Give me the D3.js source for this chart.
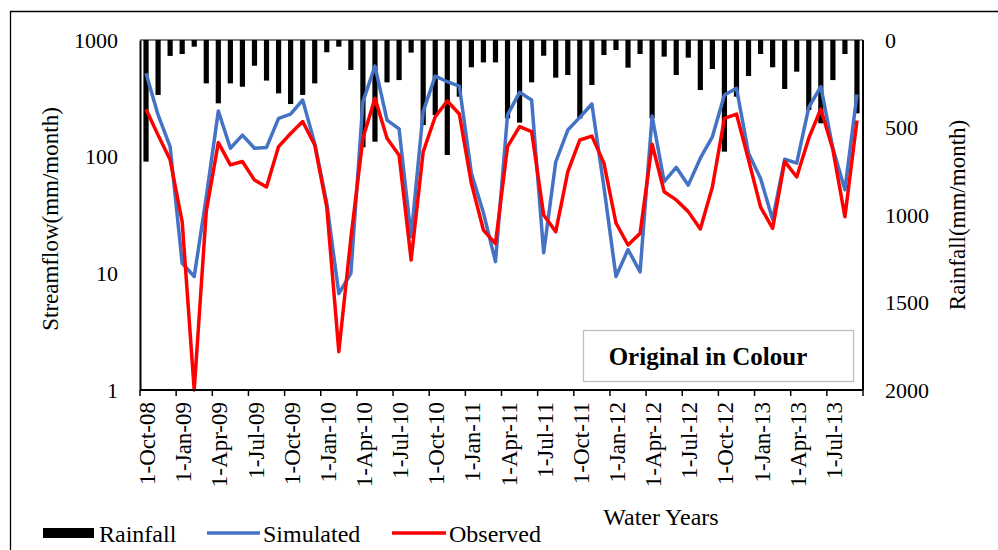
<!DOCTYPE html>
<html>
<head>
<meta charset="utf-8">
<script src="https://cdn.jsdelivr.net/npm/d3@7"></script>
<style>
  body { margin: 0; background: #fff; }
  svg text { font-family: "Liberation Serif", "Times New Roman", serif; fill: #000; }
</style>
</head>
<body>
<div id="chart"></div>
<script>

// months Oct-2008 .. Sep-2013
var months = [
  "Oct-08","Nov-08","Dec-08","Jan-09","Feb-09","Mar-09","Apr-09","May-09","Jun-09","Jul-09","Aug-09","Sep-09",
  "Oct-09","Nov-09","Dec-09","Jan-10","Feb-10","Mar-10","Apr-10","May-10","Jun-10","Jul-10","Aug-10","Sep-10",
  "Oct-10","Nov-10","Dec-10","Jan-11","Feb-11","Mar-11","Apr-11","May-11","Jun-11","Jul-11","Aug-11","Sep-11",
  "Oct-11","Nov-11","Dec-11","Jan-12","Feb-12","Mar-12","Apr-12","May-12","Jun-12","Jul-12","Aug-12","Sep-12",
  "Oct-12","Nov-12","Dec-12","Jan-13","Feb-13","Mar-13","Apr-13","May-13","Jun-13","Jul-13","Aug-13","Sep-13"
];

var tickLabels = [
  "1-Oct-08","1-Jan-09","1-Apr-09","1-Jul-09","1-Oct-09","1-Jan-10","1-Apr-10","1-Jul-10",
  "1-Oct-10","1-Jan-11","1-Apr-11","1-Jul-11","1-Oct-11","1-Jan-12","1-Apr-12","1-Jul-12",
  "1-Oct-12","1-Jan-13","1-Apr-13","1-Jul-13"
];

var rainfall = [
  695, 314, 91, 80, 38, 248, 362, 248, 267, 147, 232, 305,
  366, 314, 248, 70, 38, 171, 613, 581, 242, 229, 72, 486,
  429, 657, 324, 156, 128, 128, 448, 472, 242, 90, 215, 200,
  448, 257, 86, 57, 158, 80, 448, 95, 200, 101, 286, 166,
  638, 324, 206, 80, 156, 280, 181, 400, 476, 229, 80, 419
];

var simulated = [
  518, 228, 122, 12.2, 9.4, 45, 246, 118, 153, 118, 120, 213,
  232, 306, 130, 40, 6.7, 10, 296, 598, 206, 173, 20.6, 243,
  491, 439, 403, 72, 33, 12.6, 228, 356, 306, 15, 90, 169,
  217, 283, 55, 9.4, 16, 10.3, 223, 61, 81, 57, 97, 148,
  338, 386, 107, 65, 29, 95, 88, 265, 398, 118, 52, 342
];

var observed = [
  255, 153, 94, 27.7, 1.0, 34, 132, 85, 91, 63, 55, 122,
  158, 200, 126, 37, 2.13, 20, 144, 317, 144, 103, 13, 110,
  220, 300, 232, 59, 23.5, 18, 122, 181, 164, 31.6, 22.7, 74,
  139, 150, 88, 27, 17.5, 22, 128, 50, 42.6, 33.8, 24, 55,
  213, 232, 94, 37, 24.3, 91, 67, 144, 256, 115, 30.6, 204
];

var flowTicks = [1, 10, 100, 1000];
var rainTicks = [0, 500, 1000, 1500, 2000];

var FONT = "Liberation Serif";

var W = 998, H = 550;
var margin = {top: 40, right: 135, bottom: 160, left: 140};
var width = W - margin.left - margin.right,
    height = H - margin.top - margin.bottom;

var svg = d3.select("#chart").append("svg")
    .attr("width", W)
    .attr("height", H);

svg.append("rect").attr("width", W).attr("height", H).attr("fill", "#fff");

// outer frame (left + top only)
svg.append("path")
  .attr("d", "M10.5," + H + "V11.5H" + W)
  .attr("fill", "none")
  .attr("stroke", "#000")
  .attr("stroke-width", 1.3);

var g = svg.append("g")
  .attr("transform", "translate(" + margin.left + "," + margin.top + ")");

var x = d3.scaleBand()
  .domain(months)
  .range([0, width])
  .paddingInner(0)
  .paddingOuter(0);

var y = d3.scaleLog()
  .domain([1, 1000])
  .range([height, 0]);

var yR = d3.scaleLinear()
  .domain([0, 2000])
  .range([0, height]);

// rainfall bars hanging from the top
g.selectAll(".bar")
  .data(rainfall)
  .enter().append("rect")
    .attr("class", "bar")
    .attr("x", function(d, i) { return x(months[i]) + x.bandwidth() / 2 - 2.6; })
    .attr("y", 0)
    .attr("width", 5.2)
    .attr("height", function(d) { return yR(d); })
    .attr("fill", "#000");

// lines
var line = d3.line()
  .x(function(d, i) { return x(months[i]) + x.bandwidth() / 2; })
  .y(function(d) { return y(d); });

g.append("path")
  .datum(simulated)
  .attr("fill", "none")
  .attr("stroke", "#4472C4")
  .attr("stroke-width", 3.5)
  .attr("stroke-linejoin", "round")
  .attr("d", line);

g.append("path")
  .datum(observed)
  .attr("fill", "none")
  .attr("stroke", "#FF0000")
  .attr("stroke-width", 3.5)
  .attr("stroke-linejoin", "round")
  .attr("d", line);

// plot border top / right
g.append("line").attr("x1", 0).attr("x2", width).attr("y1", 0).attr("y2", 0)
  .attr("stroke", "#000").attr("stroke-width", 1);
g.append("line").attr("x1", width).attr("x2", width).attr("y1", 0).attr("y2", height)
  .attr("stroke", "#000").attr("stroke-width", 2);

// left axis
var yAxis = g.append("g")
  .call(d3.axisLeft(y).tickValues(flowTicks).tickFormat(d3.format("d")).tickSize(0).tickPadding(22));
yAxis.attr("font-family", FONT);
yAxis.select(".domain").attr("stroke-width", 2);
yAxis.selectAll("text").style("font-size", "22px").style("font-family", FONT);

// right axis
var rAxis = g.append("g")
  .attr("transform", "translate(" + width + ",0)")
  .call(d3.axisRight(yR).tickValues(rainTicks).tickFormat(d3.format("d")).tickSize(0).tickPadding(22));
rAxis.attr("font-family", FONT);
rAxis.select(".domain").remove();
rAxis.selectAll("text").style("font-size", "22px").style("font-family", FONT);

// bottom axis
var tickIdx = d3.range(0, months.length, 3);
var xAxis = g.append("g")
  .attr("transform", "translate(0," + height + ")");
xAxis.append("line")
  .attr("x1", 0).attr("x2", width)
  .attr("stroke", "#000").attr("stroke-width", 2);
xAxis.selectAll(".tk")
  .data(tickIdx.concat([months.length]))
  .enter().append("line")
    .attr("x1", function(d) { return d < months.length ? x(months[d]) : width; })
    .attr("x2", function(d) { return d < months.length ? x(months[d]) : width; })
    .attr("y1", 0).attr("y2", 6)
    .attr("stroke", "#000").attr("stroke-width", 1.5);
xAxis.selectAll(".lbl")
  .data(tickLabels)
  .enter().append("text")
    .attr("transform", function(d, k) {
      var cx = x(months[k * 3]) + x.bandwidth() / 2 + 1;
      return "translate(" + cx + ",12) rotate(-90)";
    })
    .attr("text-anchor", "end")
    .attr("dy", "0.35em")
    .style("font-family", FONT)
    .style("font-size", "23px")
    .text(function(d) { return d; });

// axis titles
svg.append("text")
  .attr("transform", "translate(50,219) rotate(-90)")
  .attr("text-anchor", "middle")
  .attr("dy", "0.35em")
  .style("font-family", FONT)
  .style("font-size", "23px")
  .text("Streamflow(mm/month)");

svg.append("text")
  .attr("transform", "translate(957,215) rotate(-90)")
  .attr("text-anchor", "middle")
  .attr("dy", "0.35em")
  .style("font-family", FONT)
  .style("font-size", "23px")
  .text("Rainfall(mm/month)");

svg.append("text")
  .attr("x", 661).attr("y", 525)
  .attr("text-anchor", "middle")
  .style("font-family", FONT)
  .style("font-size", "24px")
  .text("Water Years");

// "Original in Colour" box
svg.append("rect")
  .attr("x", 583.5).attr("y", 330.5).attr("width", 270).attr("height", 51)
  .attr("fill", "#fff").attr("stroke", "#bfbfbf").attr("stroke-width", 1.3);
svg.append("text")
  .attr("x", 708).attr("y", 365)
  .attr("text-anchor", "middle")
  .style("font-family", FONT)
  .style("font-size", "25px")
  .style("font-weight", "bold")
  .text("Original in Colour");

// legend
var leg = svg.append("g").attr("transform", "translate(0,533)");
leg.append("rect").attr("x", 43).attr("y", -5).attr("width", 51).attr("height", 10).attr("fill", "#000");
leg.append("text").attr("x", 99).attr("y", 9).style("font-family", FONT).style("font-size", "24px").text("Rainfall");
leg.append("line").attr("x1", 207).attr("x2", 260).attr("y1", 0).attr("y2", 0)
  .attr("stroke", "#4472C4").attr("stroke-width", 3.5);
leg.append("text").attr("x", 263).attr("y", 9).style("font-family", FONT).style("font-size", "24px").text("Simulated");
leg.append("line").attr("x1", 392).attr("x2", 446).attr("y1", 0).attr("y2", 0)
  .attr("stroke", "#FF0000").attr("stroke-width", 3.5);
leg.append("text").attr("x", 449).attr("y", 9).style("font-family", FONT).style("font-size", "24px").text("Observed");

</script>
</body>
</html>
